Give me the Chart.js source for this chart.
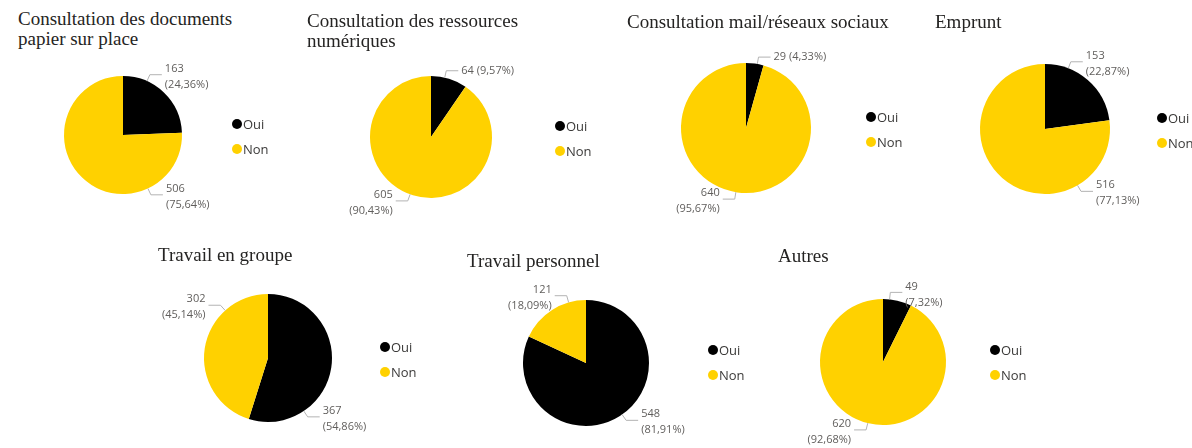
<!DOCTYPE html>
<html>
<head>
<meta charset="utf-8">
<script src="https://cdn.jsdelivr.net/npm/chart.js@4.4.0/dist/chart.umd.min.js"></script>
<style>
    body { margin: 0; background: #fff; width: 1192px; height: 448px; overflow: hidden; position: relative; }
    canvas { position: absolute; left: 0; top: 0; }
    .title { position: absolute; font-family: "Liberation Serif", serif; font-size: 19px; line-height: 20px; color: #252423; white-space: nowrap; }
</style>
</head>
<body>
<script>
// donnees
const categories = ['Oui', 'Non']
const titles = [
    ['Consultation des documents', 'papier sur place'],
    ['Consultation des ressources', 'numériques'],
    ['Consultation mail/réseaux sociaux'],
    ['Emprunt'],
    ['Travail en groupe'],
    ['Travail personnel'],
    ['Autres']
]
const oui = [163, 64, 29, 153, 367, 548, 49]
const non = [506, 605, 640, 516, 302, 121, 620]
const colors = ['#000000', '#FFD100']

// mise en page : centre, rayon, titre, legende, etiquettes (angle depuis le haut, cote)
const layout = [
    { cx: 123, cy: 135, r: 59, tx: 18, ty: 9, lx: 237, ly: 124, labels: [{ a: 24, side: 1 }, { a: 155, side: 1 }] },
    { cx: 431, cy: 137, r: 61, tx: 307, ty: 11, lx: 560, ly: 126, labels: [{ a: 13, side: 1, one: true }, { a: 200, side: -1 }] },
    { cx: 746, cy: 128, r: 65, tx: 627, ty: 12, lx: 871, ly: 117, labels: [{ a: 10, side: 1, one: true }, { a: 189, side: -1 }] },
    { cx: 1045, cy: 129, r: 65, tx: 935, ty: 12, lx: 1162, ly: 118, labels: [{ a: 21, side: 1 }, { a: 150, side: 1 }] },
    { cx: 268, cy: 358, r: 64, tx: 158, ty: 245, lx: 385, ly: 347, labels: [{ a: 146, side: 1 }, { a: 318, side: -1 }] },
    { cx: 586, cy: 363, r: 63, tx: 467, ty: 251, lx: 713, ly: 350, labels: [{ a: 145, side: 1 }, { a: 344, side: -1 }] },
    { cx: 883, cy: 362, r: 63, tx: 778, ty: 246, lx: 995, ly: 350, labels: [{ a: 6, side: 1 }, { a: 194, side: -1 }] }
]

const W = 1192
const H = 448

const fmt = (v) => v.toFixed(2).replace('.', ',')

const pieExtras = {
    id: 'pieExtras',
    afterDraw(chart, args, opts) {
        const ctx = chart.ctx
        const L = opts.lay
        const ds = chart.data.datasets[0]
        const total = ds.data.reduce((a, b) => a + b, 0)
        ctx.save()

        // etiquettes avec lignes de rappel
        ds.data.forEach((v, i) => {
            const lab = L.labels[i]
            const rad = lab.a * Math.PI / 180
            const x0 = L.cx + L.r * Math.sin(rad)
            const y0 = L.cy - L.r * Math.cos(rad)
            const x1 = x0 + 7 * Math.sin(rad)
            const y1 = y0 - 7 * Math.cos(rad)
            const x2 = x1 + lab.side * 12
            ctx.strokeStyle = '#b3b3b3'
            ctx.lineWidth = 1
            ctx.beginPath()
            ctx.moveTo(x0, y0)
            ctx.lineTo(x1, y1)
            ctx.lineTo(x2, y1)
            ctx.stroke()

            const pct = '(' + fmt(v / total * 100) + '%)'
            ctx.fillStyle = '#605E5C'
            ctx.font = '11px "Open Sans", sans-serif'
            ctx.textBaseline = 'middle'
            ctx.textAlign = lab.side > 0 ? 'left' : 'right'
            const tx = x2 + lab.side * 3
            if (lab.one) {
                ctx.fillText(v + ' ' + pct, tx, y1)
            } else {
                ctx.fillText(String(v), tx, y1 - 6)
                ctx.fillText(pct, tx, y1 + 10)
            }
        })

        // legende
        chart.data.labels.forEach((name, i) => {
            const y = L.ly + i * 25
            ctx.fillStyle = ds.backgroundColor[i]
            ctx.beginPath()
            ctx.arc(L.lx, y, 5, 0, Math.PI * 2)
            ctx.fill()
            ctx.fillStyle = '#3b3a39'
            ctx.font = '13px "Open Sans", sans-serif'
            ctx.textAlign = 'left'
            ctx.textBaseline = 'middle'
            ctx.fillText(name, L.lx + 6, y + 1)
        })
        ctx.restore()
    }
}

layout.forEach((L, k) => {
    let t = document.createElement('div')
    t.className = 'title'
    t.style.left = L.tx + 'px'
    t.style.top = L.ty + 'px'
    t.innerHTML = titles[k].join('<br>')
    document.body.appendChild(t)

    let c = document.createElement('canvas')
    c.width = W
    c.height = H
    document.body.appendChild(c)

    new Chart(c, {
        type: 'pie',
        data: {
            labels: categories,
            datasets: [{
                data: [oui[k], non[k]],
                backgroundColor: colors,
                borderWidth: 0
            }]
        },
        options: {
            responsive: false,
            animation: false,
            events: [],
            layout: {
                padding: {
                    left: L.cx - L.r,
                    top: L.cy - L.r,
                    right: W - L.cx - L.r,
                    bottom: H - L.cy - L.r
                }
            },
            plugins: {
                legend: { display: false },
                tooltip: { enabled: false },
                pieExtras: { lay: L }
            }
        },
        plugins: [pieExtras]
    })
})
</script>
</body>
</html>
